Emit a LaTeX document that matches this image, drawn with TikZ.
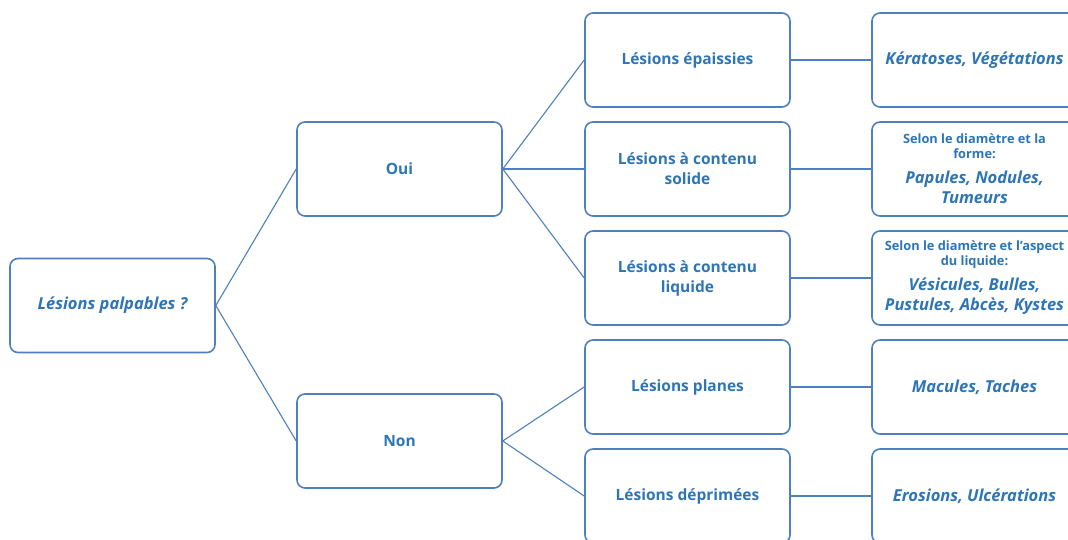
\documentclass[tikz,border=0pt]{standalone}
\usepackage{fontspec}
\setmainfont{Open Sans}
\definecolor{boxline}{RGB}{78,128,188}
\definecolor{txt}{RGB}{46,117,182}
\tikzset{
  box/.style={draw=boxline, line width=1.6pt, rounded corners=8pt, fill=white,
    minimum width=205pt, minimum height=94pt, inner sep=2pt, align=center,
    text=txt, font=\fontsize{15.5}{20}\selectfont\bfseries},
  link/.style={draw=boxline, line width=1.1pt},
}
\newcommand{\smt}{\fontsize{12.8}{16}\selectfont\bfseries}
\newcommand{\bgt}{\fontsize{16.5}{20}\selectfont\bfseries\itshape}
\begin{document}
\begin{tikzpicture}[x=1pt,y=-1pt]
\useasboundingbox (0,0) rectangle (1068,539);
\clip (0,0) rectangle (1068,539);
\node[box, font=\bgt] (root) at (112.5,305.5) {Lésions palpables ?};
\node[box] (oui) at (399.5,169) {Oui};
\node[box] (non) at (399.5,441) {Non};
\node[box] (a) at (687.5,60) {Lésions épaissies};
\node[box] (b) at (687.5,169) {Lésions à contenu\\solide};
\node[box] (c) at (687.5,278) {Lésions à contenu\\liquide};
\node[box] (d) at (687.5,387) {Lésions planes};
\node[box] (e) at (687.5,496) {Lésions déprimées};
\node[box, font=\bgt] (a2) at (974.5,60) {Kératoses, Végétations};
\node[box] (b2) at (974.5,169) {{\smt Selon le diamètre et la}\\[-5pt]{\smt forme:}\\[5pt]{\bgt Papules, Nodules,}\\{\bgt Tumeurs}};
\node[box] (c2) at (974.5,278) {{\smt Selon le diamètre et l’aspect}\\[-5pt]{\smt du liquide:}\\[5pt]{\bgt Vésicules, Bulles,}\\{\bgt Pustules, Abcès, Kystes}};
\node[box, font=\bgt] (d2) at (974.5,387) {Macules, Taches};
\node[box, font=\bgt] (e2) at (974.5,496) {Erosions, Ulcérations};
\draw[link] (root.east) -- (oui.west);
\draw[link] (root.east) -- (non.west);
\draw[link] (oui.east) -- (a.west);
\draw[link] (oui.east) -- (b.west);
\draw[link] (oui.east) -- (c.west);
\draw[link] (non.east) -- (d.west);
\draw[link] (non.east) -- (e.west);
\draw[link] (a.east) -- (a2.west);
\draw[link] (b.east) -- (b2.west);
\draw[link] (c.east) -- (c2.west);
\draw[link] (d.east) -- (d2.west);
\draw[link] (e.east) -- (e2.west);
\end{tikzpicture}
\end{document}
